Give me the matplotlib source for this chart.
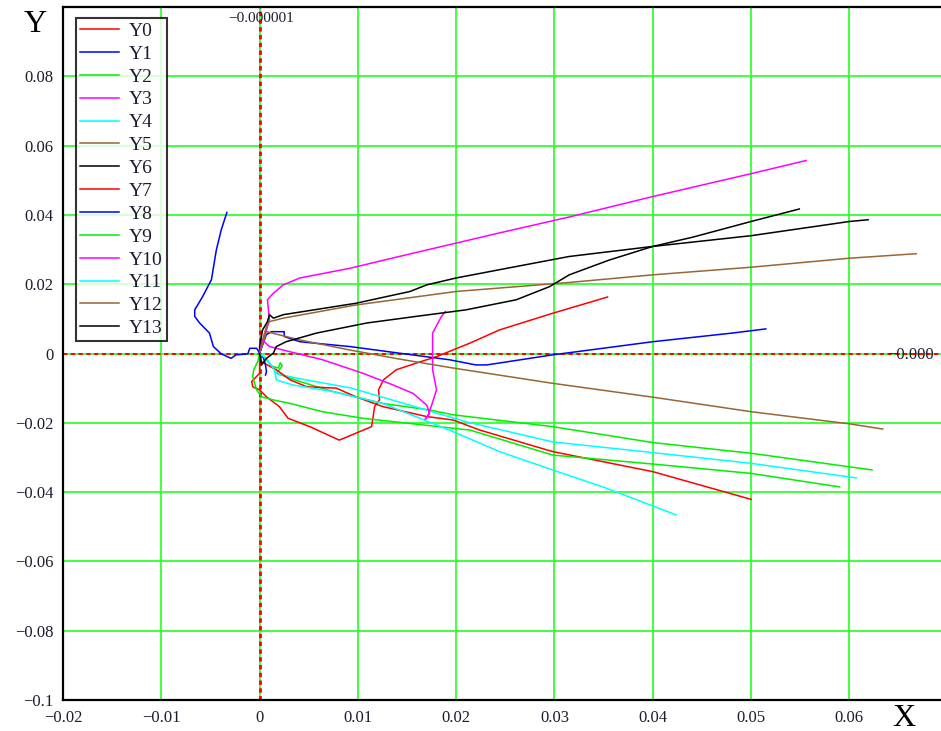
import matplotlib
matplotlib.use('Agg')
import matplotlib.pyplot as plt

plt.rcParams['font.family'] = ['Liberation Serif', 'DejaVu Serif']

# trajectories, one x/y pair per series
Y0_X = [0, 0, -0.0008, -0.0007, 0, 0.0007, 0.0020, 0.0029, 0.0051, 0.0081, 0.0098, 0.0114,
        0.0117, 0.0122, 0.0121, 0.0126, 0.0139, 0.0159, 0.0180, 0.0214, 0.0244, 0.0298, 0.0354]
Y0_Y = [0, -0.0057, -0.0081, -0.0096, -0.0105, -0.0125, -0.0153, -0.0187, -0.0211, -0.0250, -0.0230, -0.0211,
        -0.0153, -0.0134, -0.0105, -0.0076, -0.0047, -0.0028, -0.0009, 0.0030, 0.0068, 0.0116, 0.0163]

Y1_X = [0, 0.00068, 0.0012, 0.0025, 0.0025, 0.0041, 0.0092, 0.0142, 0.0193, 0.0220, 0.0231, 0.0298,
        0.0400, 0.0481, 0.0515]
Y1_Y = [0, 0.0054, 0.0063, 0.0063, 0.0049, 0.0034, 0.0020, 0.0001, -0.0018, -0.0033, -0.0033, -0.0004,
        0.0034, 0.0059, 0.0071]

Y2_X = [0, 0.0007, 0.0012, 0.0019, 0.0021, 0.0023, 0.0020, 0.0017, 0.0041, 0.0075, 0.0125, 0.0173,
        0.0197, 0.0298, 0.0400, 0.0500, 0.0549, 0.0623]
Y2_Y = [0, -0.0018, -0.0036, -0.0042, -0.0027, -0.0035, -0.0047, -0.0057, -0.0081, -0.0110, -0.0144, -0.0163,
        -0.0177, -0.0211, -0.0257, -0.0288, -0.0307, -0.0336]

Y3_X = [0, 0.0005, 0.0010, 0.0008, 0.0014, 0.0024, 0.0041, 0.0092, 0.0142, 0.0193, 0.0244, 0.0315,
        0.0400, 0.0500, 0.0556]
Y3_Y = [0, 0.0049, 0.0097, 0.0155, 0.0174, 0.0198, 0.0218, 0.0246, 0.0280, 0.0314, 0.0348, 0.0394,
        0.0453, 0.0519, 0.0557]

Y4_X = [0, 0.0006, 0.0012, 0.0018, 0.0041, 0.0092, 0.0142, 0.0210, 0.0298, 0.0400, 0.0500, 0.0607]
Y4_Y = [0, -0.0013, -0.0036, -0.0059, -0.0073, -0.0099, -0.0140, -0.0197, -0.0255, -0.0286, -0.0317, -0.0359]

Y5_X = [0, 0.0003, 0.0007, 0.0010, 0.0024, 0.0098, 0.0200, 0.0315, 0.0400, 0.0500, 0.0600, 0.0668]
Y5_Y = [0, 0.0039, 0.0078, 0.0092, 0.0102, 0.0140, 0.0179, 0.0205, 0.0227, 0.0249, 0.0275, 0.0288]

Y6_X = [0, 0, 0.0003, 0.0008, 0.0010, 0.0014, 0.0024, 0.0098, 0.0153, 0.0170, 0.0200, 0.0261,
        0.0315, 0.0400, 0.0500, 0.0600, 0.0619]
Y6_Y = [0, 0.0020, 0.0068, 0.0092, 0.0112, 0.0102, 0.0112, 0.0145, 0.0179, 0.0198, 0.0218, 0.0251,
        0.0280, 0.0309, 0.0340, 0.0381, 0.0386]

Y7_X = [0, 0.0002, 0.0017, 0.0031, 0.0048, 0.0078, 0.0098, 0.0125, 0.0170, 0.0197, 0.0224, 0.0298,
        0.0400, 0.0500]
Y7_Y = [0, -0.0024, -0.0047, -0.0076, -0.0096, -0.0100, -0.0125, -0.0153, -0.0182, -0.0192, -0.0221, -0.0283,
        -0.0341, -0.0421]

Y8_X = [0.0006, 0.0007, 0.0006, 0.0004, 0, -0.0003, -0.0010, -0.0012, -0.0024, -0.0029, -0.0039, -0.0047,
        -0.0051, -0.0061, -0.0066, -0.0066, -0.0058, -0.0049, -0.0044, -0.0039, -0.00333]
Y8_Y = [-0.0062, -0.0053, -0.0033, -0.0013, 0.0001, 0.0015, 0.0015, -0.0001, -0.0004, -0.0014, -0.0001, 0.0020,
        0.0059, 0.0088, 0.0107, 0.0126, 0.0164, 0.0213, 0.0299, 0.0357, 0.0407]

Y9_X = [0, -0.0002, -0.0006, -0.0007, -0.0003, 0.0002, 0.0014, 0.0031, 0.0064, 0.0105, 0.0214, 0.0298,
        0.0400, 0.0500, 0.0590]
Y9_Y = [0, -0.0024, -0.0047, -0.0067, -0.0105, -0.0125, -0.0134, -0.0144, -0.0168, -0.0187, -0.0221, -0.0293,
        -0.0319, -0.0346, -0.0385]

Y10_X = [0, 0.0003, 0.0010, 0.0031, 0.0064, 0.0105, 0.0136, 0.0156, 0.0170, 0.0173, 0.0168, 0.0171,
         0.0175, 0.0180, 0.0176, 0.0176, 0.0185, 0.0189]
Y10_Y = [0, 0.0039, 0.0020, 0.0005, -0.0018, -0.0057, -0.0091, -0.0115, -0.0149, -0.0172, -0.0192, -0.0182,
         -0.0149, -0.0105, -0.0047, 0.0059, 0.0107, 0.0121]

Y11_X = [0, 0.0008, 0.0015, 0.0017, 0.0034, 0.0075, 0.0125, 0.0142, 0.0193, 0.0244, 0.0298, 0.0353, 0.0424]
Y11_Y = [0, -0.0018, -0.0047, -0.0076, -0.0091, -0.0110, -0.0144, -0.0163, -0.0221, -0.0283, -0.0336, -0.0389,
         -0.0466]

Y12_X = [0, 0.0007, 0.0041, 0.0092, 0.0142, 0.0197, 0.0298, 0.0400, 0.0500, 0.0600, 0.0634]
Y12_Y = [0, 0.0063, 0.0039, 0.0010, -0.0016, -0.0042, -0.0086, -0.0126, -0.0168, -0.0203, -0.0218]

Y13_X = [0, 0.0002, 0.0007, 0.0014, 0.0017, 0.0027, 0.0058, 0.0109, 0.0159, 0.0210, 0.0261, 0.0295,
         0.0315, 0.0356, 0.0400, 0.0441, 0.0500, 0.0549]
Y13_Y = [0, -0.0033, -0.0014, 0.0001, 0.0020, 0.0034, 0.0059, 0.0088, 0.0107, 0.0126, 0.0155, 0.0193,
         0.0227, 0.0270, 0.0309, 0.0336, 0.0381, 0.0417]

LABELS = ['Y0', 'Y1', 'Y2', 'Y3', 'Y4', 'Y5', 'Y6', 'Y7', 'Y8', 'Y9', 'Y10', 'Y11', 'Y12', 'Y13']
X_TICKS = [-0.02, -0.01, 0, 0.01, 0.02, 0.03, 0.04, 0.05, 0.06]
Y_TICKS = [-0.1, -0.08, -0.06, -0.04, -0.02, 0, 0.02, 0.04, 0.06, 0.08]

SERIES = [(Y0_X, Y0_Y), (Y1_X, Y1_Y), (Y2_X, Y2_Y), (Y3_X, Y3_Y), (Y4_X, Y4_Y), (Y5_X, Y5_Y),
          (Y6_X, Y6_Y), (Y7_X, Y7_Y), (Y8_X, Y8_Y), (Y9_X, Y9_Y), (Y10_X, Y10_Y), (Y11_X, Y11_Y),
          (Y12_X, Y12_Y), (Y13_X, Y13_Y)]
COLORS = ['#ff0000', '#0000ff', '#00ee00', '#ff00ff', '#00ffff', '#996633', '#000000'] * 2


def fmt(v):
    if v == 0:
        return '0'
    return f'{v:g}'.replace('-', '\u2212')


W, H = 941, 731
fig = plt.figure(figsize=(W / 100, H / 100), dpi=100)
ax = fig.add_axes([63 / W, 31 / H, 1 - 63 / W, (700 - 7) / H])

ax.set_xlim(-0.02, -0.02 + (W - 63) / 98.3 * 0.01)
ax.set_ylim(-0.1, 0.1)
ax.set_xticks(X_TICKS)
ax.set_yticks(Y_TICKS)
ax.set_xticklabels([fmt(v) for v in X_TICKS])
ax.set_yticklabels([fmt(v) for v in Y_TICKS])
ax.tick_params(length=0, labelsize=12, labelcolor='#1c1c30')
ax.tick_params(axis='x', pad=7)
ax.tick_params(axis='y', pad=7)
ax.grid(True, color='#33ff33', lw=1.3, zorder=0)
ax.set_axisbelow(True)

for s in ['left', 'bottom', 'top']:
    ax.spines[s].set_color('black')
    ax.spines[s].set_linewidth(1.6)
ax.spines['right'].set_visible(False)

# markers at x = 0 and y = 0
ax.axvline(0, color='red', lw=2.0, ls=(0, (1.6, 1.2)), zorder=1)
ax.axhline(0, color='red', lw=1.4, ls=(0, (2.2, 1.8)), zorder=1)

for (xs, ys), c, lab in zip(SERIES, COLORS, LABELS):
    ax.plot(xs, ys, color=c, lw=1.1, label=lab, zorder=2)

leg = ax.legend(loc='upper left', bbox_to_anchor=((76 - 63) / (W - 63), 1 - (18 - 7) / 693),
                fontsize=14, frameon=True, fancybox=False, borderaxespad=0, borderpad=0.22,
                handlelength=2.0, handletextpad=0.5, labelspacing=0.27)
leg.get_frame().set_edgecolor('black')
leg.get_frame().set_linewidth(1.5)
for t in leg.get_texts():
    t.set_color('#1c1c30')

fig.text(35 / W, 1 - 25 / H, 'Y', fontsize=23, ha='center', va='center')
fig.text(904 / W, 1 - 718 / H, 'X', fontsize=23, ha='center', va='center')

# marker value labels
fig.text(261 / W, 1 - 19 / H, '\u22120.000001', fontsize=11, ha='center', va='center', color='#1c1c30')
fig.text(887 / W, 1 - 355 / H, '\u22120.000', fontsize=12, ha='left', va='center', color='#1c1c30')

fig.savefig('out.png', dpi=100)
